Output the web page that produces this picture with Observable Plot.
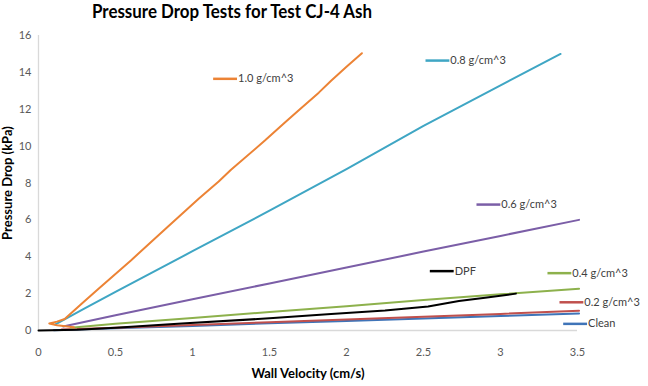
<!DOCTYPE html>
<html><head><meta charset="utf-8">
<script src="https://cdn.jsdelivr.net/npm/d3@7"></script>
<script src="https://cdn.jsdelivr.net/npm/@observablehq/plot@0.6"></script>
<style>
body{margin:0;background:#fff;}
#wrap{position:relative;width:648px;height:386px;overflow:hidden;font-family:Lato,"Open Sans",sans-serif;background:#fff;}
#title{position:absolute;top:2px;left:232px;white-space:nowrap;font-weight:bold;font-size:18px;line-height:18px;color:#000;transform-origin:center top;}
</style></head><body>
<div id="wrap"><div id="chart"></div><div id="title">Pressure Drop Tests for Test CJ-4 Ash</div></div>
<script>
// ---- data ----
const seriesNames  = ["Clean", "0.2 g/cm^3", "0.4 g/cm^3", "0.6 g/cm^3", "0.8 g/cm^3", "1.0 g/cm^3", "DPF"];
const seriesColors = ["#3F74B8", "#C0504D", "#8DB14C", "#7B5EA7", "#3FA6C4", "#EC8335", "#000000"];

const cleanX = [0.10, 0.5, 1.0, 1.5, 2.0, 2.5, 3.0, 3.51];
const cleanY = [0.02, 0.12, 0.25, 0.39, 0.52, 0.65, 0.78, 0.92];

const d02X = [0.15, 0.5, 1.0, 1.5, 2.0, 2.5, 3.0, 3.51];
const d02Y = [0.05, 0.15, 0.30, 0.45, 0.60, 0.75, 0.90, 1.07];

const d04X = [0.21, 0.5, 1.0, 1.5, 2.0, 2.5, 3.0, 3.51];
const d04Y = [0.15, 0.36, 0.68, 1.00, 1.32, 1.65, 1.96, 2.27];

const d06X = [0.16, 0.5, 1.0, 1.5, 2.0, 2.5, 3.0, 3.51];
const d06Y = [0.22, 0.83, 1.70, 2.55, 3.42, 4.28, 5.13, 6.00];

const d08X = [0.11, 0.3, 0.5, 1.0, 1.5, 2.0, 2.5, 3.0, 3.39];
const d08Y = [0.33, 1.20, 2.10, 4.30, 6.50, 8.75, 11.10, 13.30, 15.00];

const d10X = [0.23, 0.12, 0.07, 0.12, 0.17, 0.28, 0.39, 0.60, 0.82, 1.04, 1.17, 1.25, 1.47, 1.60, 1.69, 1.82, 1.90, 2.00, 2.10];
const d10Y = [0.17, 0.28, 0.38, 0.48, 0.62, 1.45, 2.27, 3.80, 5.48, 7.15, 8.08, 8.72, 10.30, 11.28, 11.95, 12.90, 13.55, 14.30, 15.04];

const dpfX = [0, 0.25, 0.5, 0.93, 1.5, 1.9, 2.25, 2.53, 2.73, 2.9, 3.1];
const dpfY = [0, 0.04, 0.15, 0.38, 0.66, 0.90, 1.08, 1.30, 1.60, 1.78, 2.00];

const xTicks = [0, 0.5, 1, 1.5, 2, 2.5, 3, 3.5];
const yTicks = [0, 2, 4, 6, 8, 10, 12, 14, 16];

// legend entries placed inside the plot (data-space anchors of each swatch)
const legendNames = ["1.0 g/cm^3", "0.8 g/cm^3", "0.6 g/cm^3", "DPF", "0.4 g/cm^3", "0.2 g/cm^3", "Clean"];
const legendX = [1.134, 2.513, 2.844, 2.541, 3.305, 3.383, 3.407];
const legendY = [13.65, 14.64, 6.83, 3.22, 3.11, 1.53, 0.36];
const swatchLen = 0.155;

// ---- build table ----
const seriesX = [cleanX, d02X, d04X, d06X, d08X, d10X, dpfX];
const seriesY = [cleanY, d02Y, d04Y, d06Y, d08Y, d10Y, dpfY];
const rows = [];
seriesNames.forEach((s, i) => seriesX[i].forEach((x, j) => rows.push({series: s, x, y: seriesY[i][j]})));
const legend = legendNames.map((s, i) => ({series: s, x: legendX[i], x2: legendX[i] + swatchLen, y: legendY[i]}));

const chart = Plot.plot({
  width: 648, height: 386,
  marginTop: 35, marginBottom: 56, marginLeft: 38, marginRight: 71,
  style: {fontFamily: "Lato, 'Open Sans', sans-serif", fontSize: "11px", background: "#fff", color: "#595959"},
  x: {domain: [0, 3.5]},
  y: {domain: [0, 16]},
  color: {domain: seriesNames, range: seriesColors},
  marks: [
    Plot.axisX({ticks: xTicks, tickSize: 0, tickPadding: 18, tickFormat: d => String(d), label: null}),
    Plot.axisY({ticks: yTicks, tickSize: 0, tickPadding: 7, label: null}),
    Plot.ruleX([0], {stroke: "#d9d9d9", strokeWidth: 1.3}),
    Plot.ruleY([0], {stroke: "#d9d9d9", strokeWidth: 1.3}),
    Plot.line(rows, {x: "x", y: "y", z: "series", stroke: "series", strokeWidth: 2, strokeLinejoin: "round"}),
    Plot.link(legend, {x1: "x", x2: "x2", y1: "y", y2: "y", stroke: "series", strokeWidth: 2.5}),
    Plot.text(legend, {x: "x2", y: "y", text: "series", textAnchor: "start", dx: 1, fill: "#404040", fontSize: 11}),
    Plot.text(["Wall Velocity (cm/s)"], {frameAnchor: "bottom", dy: 43, text: d => d, textAnchor: "middle", fontWeight: "bold", fontSize: 13, fill: "#000", lineAnchor: "middle"}),
    Plot.text(["Pressure Drop (kPa)"], {frameAnchor: "left", dx: -31, rotate: -90, text: d => d, textAnchor: "middle", fontWeight: "bold", fontSize: 13, fill: "#000", lineAnchor: "middle"})
  ]
});
document.getElementById("chart").appendChild(chart);

const t = document.getElementById("title");
const w = t.getBoundingClientRect().width;
t.style.transform = `translateX(-50%) scaleX(${280 / w})`;
</script>
</body></html>
